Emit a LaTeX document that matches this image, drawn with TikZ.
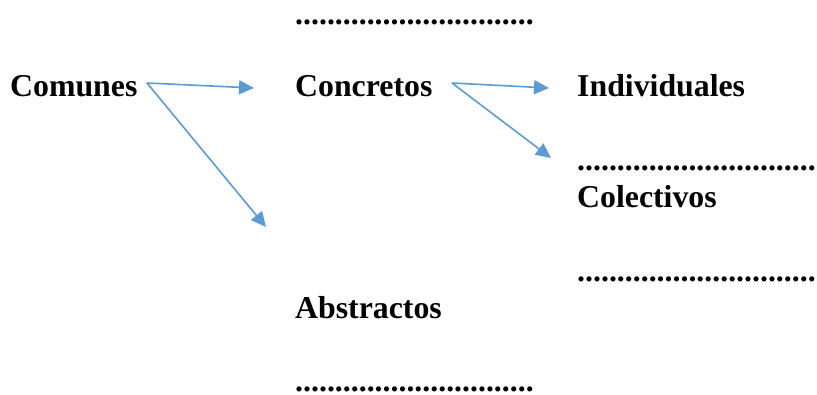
\documentclass[tikz,border=0pt]{standalone}
\usepackage{fontspec}
\setmainfont{Liberation Serif}
\usetikzlibrary{arrows.meta}
\definecolor{arrowblue}{HTML}{5B9BD5}
\newcommand{\dotrow}{..............................}
\begin{document}
\begin{tikzpicture}[x=1pt,y=1pt,
  lbl/.style={anchor=base west,inner sep=0pt,font=\fontsize{31.8}{38}\selectfont\bfseries},
  conn/.style={draw=arrowblue,line width=1.6pt,-{Triangle[length=15pt,width=14pt]}}]
\useasboundingbox (0,0) rectangle (817,394);
\node[lbl] (comunes) at (10,297) {Comunes};
\node[lbl] (concretos) at (295,297) {Concretos};
\node[lbl] (individuales) at (577,297) {Individuales};
\node[lbl] (colectivos) at (577,186) {Colectivos};
\node[lbl] (abstractos) at (295,76) {Abstractos};
\node[lbl] (dotsA) at (295,369) {\dotrow};
\node[lbl] (dotsB) at (577,223) {\dotrow};
\node[lbl] (dotsC) at (577,113) {\dotrow};
\node[lbl] (dotsD) at (295,2.5) {\dotrow};
\coordinate (cs) at (147,311);
\coordinate (ce1) at (254,306);
\coordinate (ce2) at (266,167);
\coordinate (ks) at (452,311);
\coordinate (ke1) at (549,306);
\coordinate (ke2) at (551,236);
\draw[conn] (cs) -- (ce1);
\draw[conn] (cs) -- (ce2);
\draw[conn] (ks) -- (ke1);
\draw[conn] (ks) -- (ke2);
\end{tikzpicture}
\end{document}
